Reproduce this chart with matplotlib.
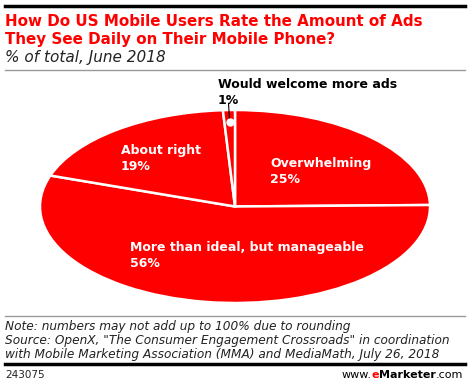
import numpy as np
import matplotlib
matplotlib.use("Agg")
import matplotlib.pyplot as plt
from matplotlib.lines import Line2D

# data
labels = ["Overwhelming", "More than ideal, but manageable", "About right", "Would welcome more ads"]
values = [25, 56, 19, 1]

W, H = 470, 386
RED = "#ff0000"
fig = plt.figure(figsize=(W / 100, H / 100), dpi=100)
plt.rcParams['font.family'] = ['DejaVu Sans']

def fx(x):
    return x / W

def fy(y):
    return 1 - y / H

# pie axes, stretched into an ellipse
cx, cy, rx, ry = 235, 206.5, 195, 96.5
ax = fig.add_axes([fx(cx - rx), fy(cy + ry), 2 * rx / W, 2 * ry / H])
wedges, _ = ax.pie(values, startangle=90, counterclock=False, colors=[RED] * 4,
                   wedgeprops=dict(edgecolor="white", linewidth=1.8))
ax.set_aspect('auto')
ax.set_xlim(-1, 1)
ax.set_ylim(-1, 1)

# marker for the tiny slice
w = wedges[3]
ang = np.deg2rad((w.theta1 + w.theta2) / 2)
ax.plot([0.88 * np.cos(ang), 1.07 * np.cos(ang)], [0.88 * np.sin(ang), 1.07 * np.sin(ang)],
        color="black", lw=0.8, clip_on=False, zorder=3)
ax.plot(0.88 * np.cos(ang), 0.88 * np.sin(ang), 'o', color="white", ms=5, zorder=4)

# slice labels
lab_pos = {0: (270, 157, "white"), 1: (130, 241, "white"), 2: (121, 144, "white"), 3: (218, 78, "black")}
for i, (x, y, c) in lab_pos.items():
    fig.text(fx(x), fy(y), "%s\n%d%%" % (labels[i], values[i]), color=c, fontsize=9,
             fontweight="bold", ha="left", va="top", linespacing=1.3)

# header
fig.add_artist(Line2D([fx(5), fx(465)], [fy(6), fy(6)], color="black", lw=2.5))
fig.text(fx(5), fy(14.5), "How Do US Mobile Users Rate the Amount of Ads\nThey See Daily on Their Mobile Phone?",
         color=RED, fontsize=10.9, fontweight="bold", ha="left", va="top", linespacing=1.2)
fig.text(fx(5), fy(50), "% of total, June 2018", fontsize=11, style="italic", ha="left", va="top",
         color="#222222")
fig.add_artist(Line2D([fx(5), fx(465)], [fy(70), fy(70)], color="#999999", lw=1))

# footer
fig.add_artist(Line2D([fx(5), fx(465)], [fy(316), fy(316)], color="#999999", lw=1))
fig.text(fx(5), fy(320),
         "Note: numbers may not add up to 100% due to rounding\n"
         "Source: OpenX, \"The Consumer Engagement Crossroads\" in coordination\n"
         "with Mobile Marketing Association (MMA) and MediaMath, July 26, 2018",
         fontsize=8.75, style="italic", ha="left", va="top", linespacing=1.08, color="#222222")
fig.add_artist(Line2D([fx(5), fx(465)], [fy(364), fy(364)], color="black", lw=2.5))
fig.text(fx(5), fy(375), "243075", fontsize=7.5, ha="left", va="center", color="#222222")

# right aligned footer brand from pieces
fig.canvas.draw()
r = fig.canvas.get_renderer()
parts = [("www.", "black", "normal"), ("e", RED, "bold"), ("Marketer", "black", "bold"), (".com", "black", "normal")]
x = 463
for s, c, wgt in reversed(parts):
    t = fig.text(fx(x), fy(375), s, fontsize=8, ha="right", va="center", color=c, fontweight=wgt)
    bb = t.get_window_extent(renderer=r)
    x -= bb.width

fig.savefig("out.png", dpi=100)
